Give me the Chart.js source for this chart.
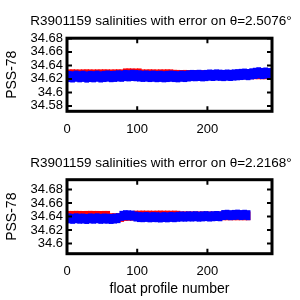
<!DOCTYPE html>
<html>
<head>
<meta charset="utf-8">
<script src="https://cdn.jsdelivr.net/npm/chart.js@4/dist/chart.umd.min.js"></script>
<style>
  body { margin: 0; background: #fff; }
  canvas { position: absolute; left: 0; }
  #top { top: 0; }
  #bottom { top: 150px; }
</style>
</head>
<body>
<canvas id="top" width="300" height="150"></canvas>
<canvas id="bottom" width="300" height="150"></canvas>
<script>
// profile numbers (every 5th profile)
const topProfiles = [3, 8, 13, 18, 23, 28, 33, 38, 43, 48, 53, 58, 63, 68, 73, 78, 83, 88, 93, 98,
  103, 108, 113, 118, 123, 128, 133, 138, 143, 148, 153, 158, 163, 168, 173, 178, 183, 188, 193, 198,
  203, 208, 213, 218, 223, 228, 233, 238, 243, 248, 253, 258, 263, 268, 273, 278, 283, 288];
const bottomProfiles = [3, 8, 13, 18, 23, 28, 33, 38, 43, 48, 53, 58, 63, 68, 73, 78, 83, 88, 93, 98,
  103, 108, 113, 118, 123, 128, 133, 138, 143, 148, 153, 158, 163, 168, 173, 178, 183, 188, 193, 198,
  203, 208, 213, 218, 223, 228, 233, 238, 243, 248, 253, 258];

// theta = 2.5076
const topRed = [34.6276, 34.6277, 34.6276, 34.6275, 34.6276, 34.6277, 34.6276, 34.6275, 34.6276, 34.6276,
  34.6277, 34.6276, 34.6275, 34.6276, 34.6277, 34.6276, 34.6290, 34.6291, 34.6290, 34.6289,
  34.6290, 34.6276, 34.6276, 34.6277, 34.6276, 34.6275, 34.6276, 34.6276, 34.6277, 34.6276,
  34.6270, 34.6268, 34.6267, 34.6268, 34.6267, 34.6266, 34.6266, 34.6266, 34.6265, 34.6265,
  34.6265, 34.6264, 34.6264, 34.6264, 34.6263, 34.6263, 34.6263, 34.6262, 34.6262, 34.6262,
  34.6261, 34.6261, 34.6261, 34.6260, 34.6260, 34.6260, 34.6260, 34.6260];
const topBlue = [34.6235, 34.6230, 34.6240, 34.6232, 34.6238, 34.6228, 34.6236, 34.6232, 34.6240, 34.6230,
  34.6236, 34.6242, 34.6234, 34.6238, 34.6244, 34.6240, 34.6250, 34.6246, 34.6252, 34.6248,
  34.6244, 34.6238, 34.6242, 34.6236, 34.6240, 34.6234, 34.6238, 34.6232, 34.6236, 34.6240,
  34.6236, 34.6232, 34.6240, 34.6236, 34.6244, 34.6250, 34.6248, 34.6252, 34.6246, 34.6250,
  34.6256, 34.6252, 34.6258, 34.6254, 34.6250, 34.6256, 34.6252, 34.6258, 34.6262, 34.6266,
  34.6270, 34.6264, 34.6274, 34.6282, 34.6290, 34.6280, 34.6286, 34.6278];

// theta = 2.2168
const bottomRed = [34.6418, 34.6418, 34.6419, 34.6418, 34.6417, 34.6418, 34.6419, 34.6418, 34.6418, 34.6417,
  34.6418, 34.6418, 34.6384, 34.6384, 34.6385, 34.6386, 34.6400, 34.6402, 34.6404, 34.6422,
  34.6422, 34.6423, 34.6422, 34.6422, 34.6421, 34.6422, 34.6423, 34.6422, 34.6422, 34.6421,
  34.6422, 34.6420, 34.6412, 34.6412, 34.6412, 34.6411, 34.6411, 34.6411, 34.6411, 34.6410,
  34.6410, 34.6410, 34.6410, 34.6410, 34.6410, 34.6410, 34.6410, 34.6410, 34.6410, 34.6410,
  34.6410, 34.6410];
const bottomBlue = [34.6372, 34.6366, 34.6374, 34.6368, 34.6370, 34.6364, 34.6372, 34.6368, 34.6374, 34.6366,
  34.6370, 34.6368, 34.6364, 34.6370, 34.6376, 34.6410, 34.6420, 34.6418, 34.6414, 34.6400,
  34.6392, 34.6390, 34.6394, 34.6388, 34.6392, 34.6390, 34.6386, 34.6392, 34.6388, 34.6394,
  34.6390, 34.6396, 34.6400, 34.6398, 34.6402, 34.6400, 34.6404, 34.6398, 34.6402, 34.6406,
  34.6400, 34.6404, 34.6408, 34.6404, 34.6422, 34.6426, 34.6420, 34.6424, 34.6428, 34.6422,
  34.6426, 34.6420];

const topRedErr = 0.006, topBlueErr = 0.0078;
const bottomRedErr = 0.006, bottomBlueErr = 0.0069;

const xTicks = [0, 100, 200];
const topYTicks = [34.58, 34.6, 34.62, 34.64, 34.66, 34.68];
const bottomYTicks = [34.6, 34.62, 34.64, 34.66, 34.68];

const font = 'Liberation Sans, Arial, Helvetica, sans-serif';

// black box with inward ticks, matlab style
const boxPlugin = {
  id: 'box',
  afterDraw(chart) {
    const ctx = chart.ctx, a = chart.chartArea;
    const x = chart.scales.x, y = chart.scales.y;
    ctx.save();
    ctx.strokeStyle = '#000';
    ctx.lineWidth = 2;
    ctx.beginPath();
    x.ticks.forEach(t => {
      const px = x.getPixelForValue(t.value);
      ctx.moveTo(px, a.bottom); ctx.lineTo(px, a.bottom - 5);
      ctx.moveTo(px, a.top); ctx.lineTo(px, a.top + 5);
    });
    y.ticks.forEach(t => {
      const py = y.getPixelForValue(t.value);
      ctx.moveTo(a.left, py); ctx.lineTo(a.left + 5, py);
      ctx.moveTo(a.right, py); ctx.lineTo(a.right - 5, py);
    });
    ctx.stroke();
    ctx.lineWidth = 3;
    ctx.strokeRect(a.left, a.top, a.right - a.left, a.bottom - a.top);
    ctx.restore();
  }
};

function bars(profiles, centers, err, color, order) {
  return {
    type: 'bar',
    data: profiles.map((p, i) => ({ x: p, y: [centers[i] - err, centers[i] + err] })),
    backgroundColor: color,
    borderWidth: 0,
    barThickness: 4,
    grouped: false,
    order: order,
    clip: false
  };
}

function makeChart(id, o) {
  return new Chart(document.getElementById(id), {
    type: 'bar',
    data: {
      datasets: [
        bars(o.profiles, o.red, o.redErr, '#ff0000', 2),
        bars(o.profiles, o.blue, o.blueErr, '#0000ff', 1)
      ]
    },
    options: {
      responsive: false,
      animation: false,
      layout: { padding: { left: 22, right: 0, top: 0, bottom: 0 } },
      plugins: {
        legend: { display: false },
        tooltip: { enabled: false },
        title: {
          display: true,
          text: o.title,
          color: '#000',
          font: { family: font, size: 13.5, weight: 'normal' },
          padding: o.titlePad
        }
      },
      scales: {
        x: {
          type: 'linear',
          min: 0,
          max: 292,
          offset: false,
          grid: { display: false, drawTicks: false },
          border: { display: false },
          afterBuildTicks: s => { s.ticks = xTicks.map(v => ({ value: v })); },
          afterFit: s => { s.height = o.xHeight; },
          ticks: { color: '#000', padding: 10, autoSkip: false, font: { family: font, size: 13 } },
          title: {
            display: !!o.xTitle,
            text: o.xTitle || '',
            color: '#000',
            font: { family: font, size: 14 },
            padding: { top: 0, bottom: 2 }
          }
        },
        y: {
          min: o.yMin,
          max: o.yMax,
          grid: { display: false, drawTicks: false },
          border: { display: false },
          afterBuildTicks: s => { s.ticks = o.yTicks.map(v => ({ value: v })); },
          afterFit: s => { s.width = 45; },
          ticks: {
            color: '#000',
            padding: 4,
            autoSkip: false,
            font: { family: font, size: 13 },
            callback: v => String(+v.toFixed(2))
          },
          title: {
            display: true,
            text: 'PSS-78',
            color: '#000',
            font: { family: font, size: 14 },
            padding: { top: -18.7, bottom: 0 }
          }
        },
        // empty right axis, only keeps room right of the box
        yr: {
          position: 'right',
          min: o.yMin,
          max: o.yMax,
          grid: { display: false, drawTicks: false },
          border: { display: false },
          ticks: { display: false },
          afterFit: s => { s.width = 28; }
        }
      }
    },
    plugins: [boxPlugin]
  });
}

makeChart('top', {
  profiles: topProfiles, red: topRed, blue: topBlue,
  redErr: topRedErr, blueErr: topBlueErr,
  title: 'R3901159 salinities with error on θ=2.5076°',
  titlePad: { top: 13, bottom: 9 },
  yMin: 34.572, yMax: 34.6803, yTicks: topYTicks,
  xHeight: 38.7
});

makeChart('bottom', {
  profiles: bottomProfiles, red: bottomRed, blue: bottomBlue,
  redErr: bottomRedErr, blueErr: bottomBlueErr,
  title: 'R3901159 salinities with error on θ=2.2168°',
  titlePad: { top: 5, bottom: 8.5 },
  yMin: 34.585, yMax: 34.6945, yTicks: bottomYTicks,
  xHeight: 46.3, xTitle: 'float profile number'
});
</script>
</body>
</html>
